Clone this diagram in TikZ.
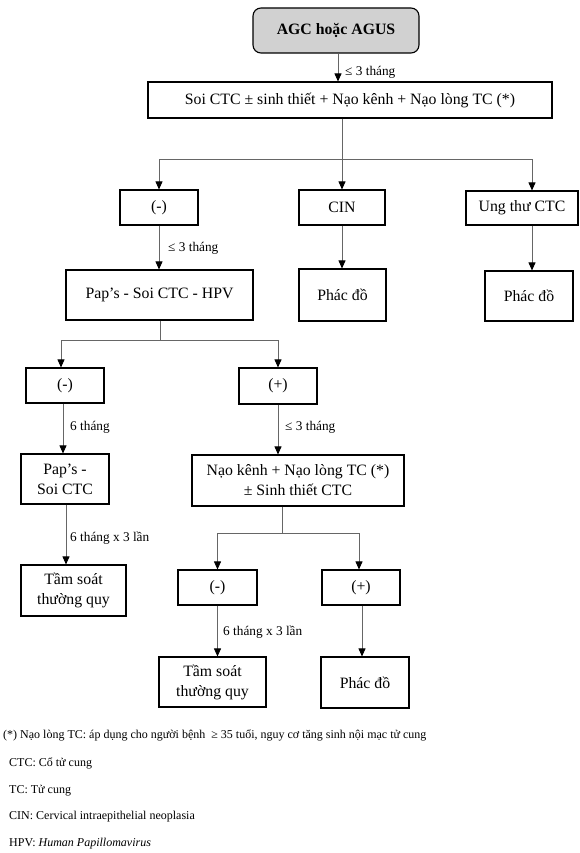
\documentclass[tikz,border=0pt]{standalone}
\usepackage{fontspec}
\setmainfont{Liberation Serif}
\usetikzlibrary{arrows.meta}
\begin{document}
\begin{tikzpicture}[x=1pt,y=-1pt,
 box/.style={draw=black, line width=1.1pt, inner sep=0pt, align=center, font=\fontsize{15.8}{20}\selectfont},
 startbox/.style={box, rounded corners=8pt, fill=black!18, font=\fontsize{15.8}{20}\selectfont\bfseries},
 conn/.style={draw=black!60, line width=0.8pt},
 arr/.style={conn, -{Triangle[width=7pt,length=8pt,color=black]}},
 lbl/.style={anchor=west, inner sep=0pt, font=\fontsize{13.3}{16}\selectfont},
 note/.style={anchor=base west, inner sep=0pt, font=\fontsize{12}{14}\selectfont}]
\useasboundingbox (0,0) rectangle (579,853);

% boxes
\node[startbox, minimum width=166pt, minimum height=45pt] (agc) at (336,30.5) {AGC hoặc AGUS};
\node[box, minimum width=404pt, minimum height=36pt] (soi) at (350,100) {Soi CTC ± sinh thiết + Nạo kênh + Nạo lòng TC (*)};
\node[box, minimum width=78pt, minimum height=35pt] (neg1) at (159,207.5) {(-)};
\node[box, minimum width=86pt, minimum height=35pt] (cin) at (342,207.5) {CIN};
\node[box, minimum width=112pt, minimum height=34pt] (ung) at (522,208) {Ung thư CTC};
\node[box, minimum width=187pt, minimum height=50pt] (paphpv) at (159.5,295) {Pap’s - Soi CTC - HPV};
\node[box, minimum width=87pt, minimum height=52pt] (ph1) at (342.5,295) {Phác đồ};
\node[box, minimum width=88pt, minimum height=50pt] (ph2) at (529,296) {Phác đồ};
\node[box, minimum width=78pt, minimum height=35pt] (neg2) at (65,385.5) {(-)};
\node[box, minimum width=78pt, minimum height=36pt] (pos2) at (278,386) {(+)};
\node[box, minimum width=88pt, minimum height=50pt] (papsoi) at (65,479) {Pap’s -\\Soi CTC};
\node[box, minimum width=212pt, minimum height=51pt] (nao) at (298,480.5) {Nạo kênh + Nạo lòng TC (*)\\± Sinh thiết CTC};
\node[box, minimum width=105pt, minimum height=51pt] (tam1) at (73.5,590.5) {Tầm soát\\thường quy};
\node[box, minimum width=79pt, minimum height=35pt] (neg3) at (217.5,587.5) {(-)};
\node[box, minimum width=78pt, minimum height=35pt] (pos3) at (361,587.5) {(+)};
\node[box, minimum width=107pt, minimum height=50pt] (tam2) at (212.5,682) {Tầm soát\\thường quy};
\node[box, minimum width=88pt, minimum height=51pt] (ph3) at (365,682.5) {Phác đồ};

% connectors
\draw[arr] ([xshift=2pt]agc.south) -- ([xshift=2pt]agc.south |- soi.north);
\node[lbl] (l1) at (345,72) {≤ 3 tháng};

\coordinate (j1) at (342,159);
\draw[conn] (soi.south -| j1) -- (j1);
\draw[arr] (j1) -| (neg1.north);
\draw[arr] (j1) -- (cin.north);
\draw[arr] (j1) -| ([xshift=10pt]ung.north);
\draw[arr] ([xshift=10pt]ung.south) -- ([xshift=10pt]ung.south |- ph2.north);
\draw[arr] (cin.south) -- (cin.south |- ph1.north);
\draw[arr] (neg1.south) -- (neg1.south |- paphpv.north);
\node[lbl] (l2) at (168,248) {≤ 3 tháng};

\coordinate (j2) at (160,340);
\draw[conn] (paphpv.south -| j2) -- (j2);
\draw[arr] (j2) -| ([xshift=-4pt]neg2.north);
\draw[arr] (j2) -| (pos2.north);
\draw[arr] ([xshift=-2pt]neg2.south) -- ([xshift=-2pt]neg2.south |- papsoi.north);
\node[lbl] (l3) at (70,427) {6 tháng};
\draw[arr] (pos2.south) -- (pos2.south |- nao.north);
\node[lbl] (l4) at (285,427) {≤ 3 tháng};
\draw[arr] ([xshift=1pt]papsoi.south) -- ([xshift=1pt]papsoi.south |- tam1.north);
\node[lbl] (l5) at (70,538) {6 tháng x 3 lần};

\coordinate (j3) at (282,533);
\draw[conn] (nao.south -| j3) -- (j3);
\draw[arr] (j3) -| (neg3.north);
\draw[arr] (j3) -| ([xshift=-2pt]pos3.north);
\draw[arr] (neg3.south) -- (neg3.south |- tam2.north);
\node[lbl] (l6) at (223,632) {6 tháng x 3 lần};
\draw[arr] ([xshift=1pt]pos3.south) -- ([xshift=1pt]pos3.south |- ph3.north);

% notes
\node[note] (n1) at (3,738) {(*) Nạo lòng TC: áp dụng cho người bệnh\ \ ≥ 35 tuổi, nguy cơ tăng sinh nội mạc tử cung};
\node[note] (n2) at (9,766) {CTC: Cổ tử cung};
\node[note] (n3) at (9,793) {TC: Tử cung};
\node[note] (n4) at (9,819) {CIN: Cervical intraepithelial neoplasia};
\node[note] (n5) at (9,846) {HPV: \textit{Human Papillomavirus}};
\end{tikzpicture}
\end{document}
